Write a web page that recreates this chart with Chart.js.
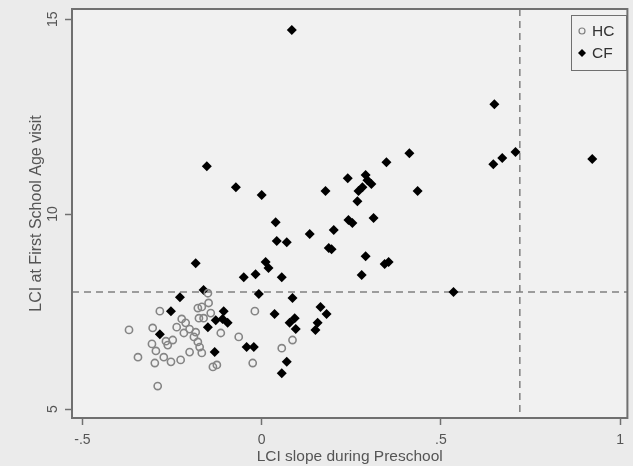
<!DOCTYPE html>
<html>
<head>
<meta charset="utf-8">
<script src="https://cdn.jsdelivr.net/npm/chart.js@4.4.0/dist/chart.umd.min.js"></script>
<style>
html, body { margin: 0; padding: 0; background: #ebebeb; }
#wrap { width: 633px; height: 466px; }
</style>
</head>
<body>
<div id="wrap"><canvas id="grafica" width="633" height="466"></canvas></div>
<script>
// Valores
var hcX = [-0.370, -0.345, -0.304, -0.284, -0.306, -0.295, -0.298, -0.290, -0.273, -0.267,
           -0.253, -0.262, -0.248, -0.226, -0.237, -0.223, -0.217, -0.212, -0.201, -0.201,
           -0.189, -0.184, -0.178, -0.173, -0.167, -0.178, -0.175, -0.162, -0.150, -0.148,
           -0.142, -0.114, -0.136, -0.125, -0.064, -0.019, -0.025, 0.056, 0.086, -0.167];
var hcY = [7.03, 6.33, 7.08, 7.51, 6.67, 6.49, 6.18, 5.59, 6.33, 6.74,
           6.21, 6.64, 6.77, 6.26, 7.10, 7.31, 6.95, 7.21, 7.05, 6.46,
           6.85, 6.97, 6.72, 6.59, 6.44, 7.59, 7.33, 7.33, 7.97, 7.72,
           7.46, 6.95, 6.08, 6.13, 6.85, 7.51, 6.18, 6.56, 6.77, 7.62];

var cfX = [0.084, -0.153, -0.072, 0.000, 0.039, 0.134, 0.042, 0.070, 0.178, 0.011,
           0.019, -0.050, -0.017, 0.056, 0.187, -0.184, -0.162, 0.412, 0.348, 0.240,
           0.290, 0.295, 0.306, 0.281, 0.270, 0.435, 0.267, 0.242, 0.253, 0.312,
           0.201, 0.195, 0.290, 0.343, 0.354, 0.279, 0.649, 0.646, 0.671, 0.708,
           0.922, 0.535, 0.164, 0.181, 0.156, 0.150, 0.086, 0.092, 0.078, 0.095,
           -0.008, -0.228, -0.253, -0.106, -0.128, -0.109, -0.095, -0.150, 0.036, -0.284,
           -0.042, -0.022, -0.131, 0.070, 0.056];
var cfY = [14.72, 11.23, 10.69, 10.49, 9.79, 9.49, 9.31, 9.28, 10.59, 8.77,
           8.62, 8.38, 8.46, 8.38, 9.13, 8.74, 8.05, 11.56, 11.33, 10.92,
           11.00, 10.87, 10.77, 10.69, 10.59, 10.59, 10.33, 9.85, 9.77, 9.90,
           9.59, 9.10, 8.92, 8.72, 8.77, 8.44, 12.82, 11.28, 11.44, 11.59,
           11.41, 8.00, 7.62, 7.44, 7.21, 7.03, 7.85, 7.33, 7.21, 7.05,
           7.95, 7.87, 7.51, 7.51, 7.28, 7.31, 7.21, 7.10, 7.44, 6.92,
           6.59, 6.59, 6.46, 6.21, 5.92];

var xTicks = [-0.5, 0, 0.5, 1];
var yTicks = [5, 10, 15];
var lineaY = 8;      // linea horizontal punteada
var lineaX = 0.72;   // linea vertical punteada

var fuente = '"Liberation Sans", Arial, sans-serif';
var gris = '#555555';

function puntos(xs, ys) {
    return xs.map(function (x, i) { return { x: x, y: ys[i] }; });
}

function etiqueta(v) {
    if (v === 0) return '0';
    return String(v).replace('0.', '.');
}

// Fondo, marco, lineas de referencia, etiquetas del eje y y leyenda
var decoracion = {
    id: 'decoracion',
    beforeDraw: function (chart) {
        var c = chart.ctx, a = chart.chartArea;
        c.save();
        c.fillStyle = '#f1f1f1';
        c.fillRect(a.left, a.top, a.right - a.left, a.bottom - a.top);
        c.restore();
    },
    beforeDatasetsDraw: function (chart) {
        var c = chart.ctx, a = chart.chartArea;
        var px = chart.scales.x.getPixelForValue(lineaX);
        var py = chart.scales.y.getPixelForValue(lineaY);
        c.save();
        c.strokeStyle = '#808080';
        c.lineWidth = 1.5;
        c.setLineDash([7, 5]);
        c.beginPath();
        c.moveTo(a.left, py); c.lineTo(a.right, py);
        c.moveTo(px, a.top); c.lineTo(px, a.bottom);
        c.stroke();
        c.restore();
    },
    afterDraw: function (chart) {
        var c = chart.ctx, a = chart.chartArea;
        c.save();
        c.strokeStyle = '#707070';
        c.lineWidth = 2;
        c.strokeRect(a.left, a.top, a.right - a.left, a.bottom - a.top);

        // etiquetas del eje y (giradas)
        c.fillStyle = gris;
        c.font = '14px ' + fuente;
        c.textAlign = 'center';
        c.textBaseline = 'middle';
        yTicks.forEach(function (v) {
            var y = chart.scales.y.getPixelForValue(v);
            c.save();
            c.translate(53, y);
            c.rotate(-Math.PI / 2);
            c.fillText(etiqueta(v), 0, 0);
            c.restore();
        });

        // leyenda
        c.fillStyle = '#f1f1f1';
        c.fillRect(571, 15, 55, 55);
        c.strokeStyle = '#707070';
        c.lineWidth = 1;
        c.strokeRect(571.5, 15.5, 55, 55);
        c.strokeStyle = '#808080';
        c.lineWidth = 1.2;
        c.beginPath();
        c.arc(582, 31, 3, 0, Math.PI * 2);
        c.stroke();
        c.fillStyle = '#000';
        c.beginPath();
        c.moveTo(582, 49); c.lineTo(586, 53); c.lineTo(582, 57); c.lineTo(578, 53);
        c.closePath();
        c.fill();
        c.fillStyle = '#333';
        c.font = '15.5px ' + fuente;
        c.textAlign = 'left';
        c.fillText('HC', 592, 32);
        c.fillText('CF', 592, 54);
        c.restore();
    }
};

var ctx = document.getElementById('grafica').getContext('2d');
var graf = new Chart(ctx, {
    type: 'scatter',
    data: {
        datasets: [{
            label: 'HC',
            data: puntos(hcX, hcY),
            pointStyle: 'circle',
            pointRadius: 3.6,
            borderWidth: 1.6,
            borderColor: '#858585',
            backgroundColor: 'rgba(0,0,0,0)'
        }, {
            label: 'CF',
            data: puntos(cfX, cfY),
            pointStyle: 'rectRot',
            pointRadius: 5,
            borderWidth: 0,
            borderColor: '#000',
            backgroundColor: '#000'
        }]
    },
    options: {
        responsive: false,
        animation: false,
        events: [],
        layout: { padding: { top: 9, right: 5, left: 0, bottom: 0 } },
        plugins: { legend: { display: false }, tooltip: { enabled: false } },
        scales: {
            x: {
                type: 'linear',
                min: -0.529,
                max: 1.02,
                afterBuildTicks: function (s) { s.ticks = xTicks.map(function (v) { return { value: v }; }); },
                afterFit: function (s) { s.height = 48; },
                grid: { drawOnChartArea: false, drawTicks: true, tickLength: 7, tickWidth: 1.5, color: '#707070' },
                border: { display: false },
                ticks: {
                    color: gris,
                    padding: 7,
                    font: { family: fuente, size: 14 },
                    maxRotation: 0,
                    callback: function (v) { return etiqueta(v); }
                },
                title: {
                    display: true,
                    text: 'LCI slope during Preschool',
                    color: gris,
                    font: { family: fuente, size: 15.5 },
                    padding: { top: 0, bottom: 0 }
                }
            },
            y: {
                type: 'linear',
                min: 4.77,
                max: 15.26,
                afterBuildTicks: function (s) { s.ticks = yTicks.map(function (v) { return { value: v }; }); },
                afterFit: function (s) { s.width = 72; },
                grid: { drawOnChartArea: false, drawTicks: true, tickLength: 7, tickWidth: 1.5, color: '#707070' },
                border: { display: false },
                ticks: { display: false },
                title: {
                    display: true,
                    text: 'LCI at First School Age visit',
                    color: gris,
                    font: { family: fuente, size: 16 },
                    padding: { top: 27, bottom: 0 }
                }
            }
        }
    },
    plugins: [decoracion]
});
</script>
</body>
</html>
